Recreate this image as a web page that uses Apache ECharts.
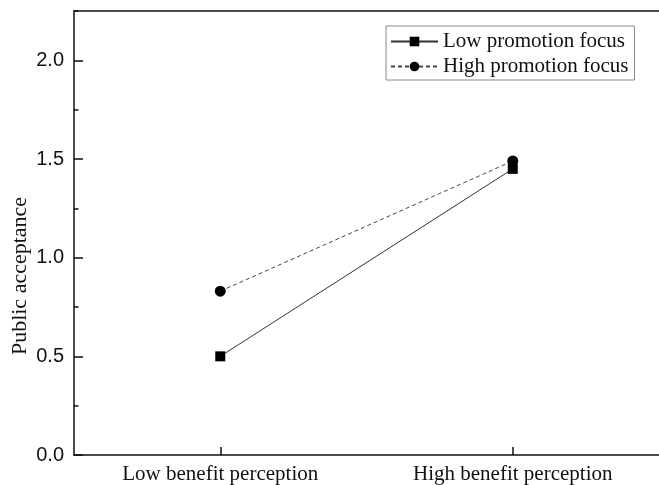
<!DOCTYPE html>
<html>
<head>
<meta charset="utf-8">
<script src="https://cdn.jsdelivr.net/npm/echarts@6/dist/echarts.min.js"></script>
<style>
  html, body { margin: 0; padding: 0; background: #ffffff; }
  #chart { width: 659px; height: 485px; }
</style>
</head>
<body>
<div id="chart"></div>
<script>
// Benefit perception levels on the x axis
var categories = ['Low benefit perception', 'High benefit perception'];
// Public acceptance for each promotion-focus group
var lowPromotion = [0.50, 1.45];
var highPromotion = [0.83, 1.49];
var seriesNames = ['Low promotion focus', 'High promotion focus'];
var yTitle = 'Public acceptance';

var serif = '"Liberation Serif", "Times New Roman", serif';
var sans = '"Liberation Sans", Arial, sans-serif';

var chart = echarts.init(document.getElementById('chart'), null, { renderer: 'canvas' });

var axisLine = { show: true, onZero: false, lineStyle: { color: '#111', width: 1.5 } };

chart.setOption({
  backgroundColor: '#ffffff',
  animation: false,
  grid: { left: 74, right: 0, top: 11, bottom: 30, containLabel: false },
  legend: {
    left: 386,
    top: 26,
    orient: 'vertical',
    itemWidth: 47,
    itemHeight: 12,
    itemGap: 4,
    padding: [5, 6, 3, 4],
    borderColor: '#888',
    borderWidth: 1,
    textStyle: { fontFamily: serif, fontSize: 21, color: '#111', lineHeight: 21 },
    data: seriesNames
  },
  xAxis: [
    {
      type: 'category',
      data: categories,
      position: 'bottom',
      boundaryGap: true,
      axisLine: axisLine,
      axisTick: { show: true, inside: true, length: 8, alignWithLabel: true, lineStyle: { color: '#111', width: 1.5 } },
      axisLabel: { fontFamily: serif, fontSize: 21, color: '#111', margin: 9 },
      splitLine: { show: false }
    },
    {
      // top frame line
      type: 'category',
      data: categories,
      position: 'top',
      axisLine: axisLine,
      axisTick: { show: false },
      axisLabel: { show: false },
      splitLine: { show: false }
    }
  ],
  yAxis: [
    {
      type: 'value',
      min: 0,
      max: 2.25,
      interval: 0.5,
      axisLine: axisLine,
      axisTick: { show: true, inside: true, length: 9, lineStyle: { color: '#111', width: 1.5 } },
      axisLabel: {
        fontFamily: sans, fontSize: 20, color: '#111', margin: 10,
        showMaxLabel: false,
        formatter: function (v) { return v.toFixed(1); }
      },
      splitLine: { show: false }
    },
    {
      // minor ticks every 0.25
      type: 'value',
      min: 0,
      max: 2.25,
      interval: 0.25,
      position: 'left',
      axisLine: { show: false },
      axisTick: { show: true, inside: true, length: 4.5, lineStyle: { color: '#111', width: 1.5 } },
      axisLabel: { show: false },
      splitLine: { show: false }
    }
  ],
  graphic: [
    {
      type: 'text',
      x: 20,
      y: 276,
      rotation: Math.PI / 2,
      style: {
        text: yTitle,
        fontFamily: serif,
        fontSize: 22,
        fill: '#111',
        align: 'center',
        verticalAlign: 'middle'
      }
    }
  ],
  series: [
    {
      name: seriesNames[0],
      type: 'line',
      data: lowPromotion,
      symbol: 'rect',
      symbolSize: 10,
      itemStyle: { color: '#000' },
      lineStyle: { color: '#333', width: 1, type: 'solid' },
      z: 3
    },
    {
      name: seriesNames[1],
      type: 'line',
      data: highPromotion,
      symbol: 'circle',
      symbolSize: 11,
      itemStyle: { color: '#000' },
      lineStyle: { color: '#444', width: 1, type: [4, 3] },
      z: 4
    }
  ]
});
</script>
</body>
</html>
